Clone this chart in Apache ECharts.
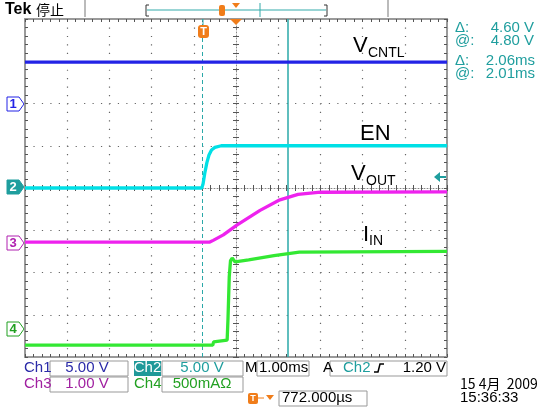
<!DOCTYPE html>
<html><head><meta charset="utf-8">
<script src="https://cdn.jsdelivr.net/npm/echarts@6/dist/echarts.min.js"></script>
<style>html,body{margin:0;padding:0;background:#fff}#c{width:547px;height:408px}</style>
</head><body><div id="c"></div>
<script>
// time in ms (1.00 ms/div, 10 div), vertical in divisions (8 div)
const ch1 = [[0,6.98],[10,6.98]];
const ch2 = [[0,4.0],[4.19,4.0],[4.22,4.1],[4.26,4.35],[4.31,4.6],[4.36,4.78],[4.42,4.9],[4.5,4.96],[4.65,5.0],[10,5.0]];
const ch3 = [[0,2.72],[4.38,2.72],[4.46,2.76],[4.7,2.89],[5.02,3.12],[5.57,3.47],[6.04,3.72],[6.47,3.85],[7.0,3.9],[10,3.91]];
const ch4 = [[0,0.28],[4.45,0.28],[4.47,0.36],[4.79,0.4],[4.81,0.9],[4.84,1.9],[4.87,2.28],[4.91,2.34],[4.98,2.25],[5.3,2.3],[5.9,2.4],[6.5,2.48],[10,2.5]];
const cursorTimes = [4.19, 6.23];
const cursorText = [["Δ:", "4.60 V"], ["@:", "4.80 V"], ["Δ:", "2.06ms"], ["@:", "2.01ms"]];
const scaleText = ["5.00 V", "5.00 V", "1.00 V", "500mAΩ"];
const timebase = "1.00ms", trigLevel = "1.20 V", trigPos = "772.000µs";
const dateText = ["15 4月  2009", "15:36:33"];

const C1='#2323e6', C2='#00e0e6', C3='#ee22ee', C4='#33e833', TEAL='#1f9e9e', OR='#f07d1a';
const F='"Liberation Sans", Arial, sans-serif';
const chart = echarts.init(document.getElementById('c'));
const G={left:25, top:19, width:422, height:338};
const grayLine={color:'#9a9a9a', width:2};
function xa(pos, extra){return Object.assign({type:'value',min:0,max:10,interval:1,position:pos,
  axisLine:{show:true,lineStyle:grayLine,onZero:false},axisTick:{show:true,inside:true,length:3,lineStyle:{color:'#555'}},
  minorTick:{show:true,splitNumber:5,length:3,lineStyle:{color:'#555'}},axisLabel:{show:false},splitLine:{show:false}},extra||{});}
function ya(pos, extra){return Object.assign({type:'value',min:0,max:8,interval:1,position:pos,
  axisLine:{show:true,lineStyle:grayLine,onZero:false},axisTick:{show:true,inside:true,length:3,lineStyle:{color:'#555'}},
  minorTick:{show:true,splitNumber:5,length:3,lineStyle:{color:'#555'}},axisLabel:{show:false},splitLine:{show:false}},extra||{});}
const dotted={show:true,lineStyle:{color:'#666',width:1.2,type:[1.2,7.24]}};
const centerLine={show:true,lineStyle:{color:'#888',width:1,type:[1,2]}};
const mk=(d,c)=>({type:'line',data:d,showSymbol:false,symbol:'none',lineStyle:{color:c,width:3.3},xAxisIndex:0,yAxisIndex:0,z:5});

function text(x,y,t,o){return {type:'text',x:x,y:y,style:Object.assign({text:t,fill:'#000',font:'14px '+F,textVerticalAlign:'middle'},o||{}),z:100};}
function box(x,y,w,h){return {type:'rect',shape:{x:x,y:y,width:w,height:h},style:{fill:'none',stroke:'#999',lineWidth:1},z:90};}
function marker(y,label,col,filled){
  return {type:'group',z:100,children:[
    {type:'polygon',shape:{points:[[7,y-7],[19,y-7],[24,y],[19,y+7],[7,y+7]]},style:{fill:filled?col:'#fff',stroke:col,lineWidth:1}},
    {type:'text',x:13,y:y,style:{text:label,fill:filled?'#fff':col,font:'bold 13px '+F,textAlign:'center',textVerticalAlign:'middle'}}]};
}
const RF='15px '+F;
const graphic=[
  text(5,10,'Tek',{font:'bold 16px '+F}),
  text(36,10,'停止',{font:'14px "Noto Sans CJK SC"'}),
  {type:'line',shape:{x1:85,y1:0,x2:85,y2:17},style:{stroke:'#bbb',lineWidth:2}},
  {type:'line',shape:{x1:388,y1:0,x2:388,y2:17},style:{stroke:'#bbb',lineWidth:2}},
  {type:'line',shape:{x1:147,y1:10,x2:326,y2:10},style:{stroke:'#33aaaa',lineWidth:1}},
  {type:'polyline',shape:{points:[[149,5],[146,5],[146,16],[149,16]]},style:{stroke:'#333',fill:'none',lineWidth:1}},
  {type:'polyline',shape:{points:[[324,5],[327,5],[327,16],[324,16]]},style:{stroke:'#333',fill:'none',lineWidth:1}},
  {type:'line',shape:{x1:260,y1:3,x2:260,y2:17},style:{stroke:'#33aaaa',lineWidth:1}},
  {type:'rect',shape:{x:219,y:5,width:6,height:11,r:2},style:{fill:OR}},
  {type:'polygon',shape:{points:[[232,3],[240,3],[236,8]]},style:{fill:OR}},
  {type:'polygon',shape:{points:[[230,19],[242,19],[236,25]]},style:{fill:OR},z:100},
  {type:'line',shape:{x1:203,y1:19,x2:203,y2:26},style:{stroke:'#33aaaa',lineWidth:1},z:100},
  {type:'rect',shape:{x:198,y:25,width:11,height:13,r:3},style:{fill:OR},z:100},
  text(203.5,31.5,'T',{fill:'#fff',font:'bold 11px '+F,textAlign:'center'}),
  marker(104,'1',C1,false), marker(187,'2',TEAL,true), marker(243,'3','#b020b0',false), marker(329,'4','#20a020',false),
  {type:'polygon',shape:{points:[[434,177],[440,172],[440,182]]},style:{fill:TEAL},z:100},
  {type:'line',shape:{x1:439,y1:177,x2:446,y2:177},style:{stroke:TEAL,lineWidth:2},z:100},
  text(353,46,'V',{font:'22px '+F}), text(368,53,'CNTL',{font:'14px '+F}),
  text(360,134,'EN',{font:'22px '+F}),
  text(351,174,'V',{font:'22px '+F}), text(366,181,'OUT',{font:'14px '+F}),
  text(363,235,'I',{font:'22px '+F}), text(369,241,'IN',{font:'14px '+F}),
  text(455,28,cursorText[0][0],{fill:TEAL,font:RF}), text(534,28,cursorText[0][1],{fill:TEAL,font:RF,textAlign:'right'}),
  text(455,41,cursorText[1][0],{fill:TEAL,font:RF}), text(534,41,cursorText[1][1],{fill:TEAL,font:RF,textAlign:'right'}),
  text(455,61,cursorText[2][0],{fill:TEAL,font:RF}), text(535,61,cursorText[2][1],{fill:TEAL,font:RF,textAlign:'right'}),
  text(455,74,cursorText[3][0],{fill:TEAL,font:RF}), text(535,74,cursorText[3][1],{fill:TEAL,font:RF,textAlign:'right'}),
  text(24,368,'Ch1',{fill:'#2a2aa8',font:RF}), box(50,361,78,15), text(87,368,scaleText[0],{fill:'#2a2aa8',font:RF,textAlign:'center'}),
  {type:'rect',shape:{x:134,y:361,width:27,height:15},style:{fill:'#1f9999'},z:90},
  text(147.5,368,'Ch2',{fill:'#fff',font:RF,textAlign:'center'}), box(162,361,81,15), text(202,368,scaleText[1],{fill:TEAL,font:RF,textAlign:'center'}),
  text(245,368,'M',{font:RF}), box(257,361,52,15), text(259,368,timebase,{font:RF}),
  text(323,368,'A',{font:RF}), box(330,361,117,15), text(343,368,'Ch2',{fill:TEAL,font:RF}),
  {type:'polyline',shape:{points:[[374,372],[378,372],[380,364],[384,364]]},style:{stroke:'#000',fill:'none',lineWidth:1.5},z:100},
  text(446,368,trigLevel,{font:RF,textAlign:'right'}),
  text(24,384,'Ch3',{fill:'#a020a0',font:RF}), box(50,377,78,15), text(87,384,scaleText[2],{fill:'#a020a0',font:RF,textAlign:'center'}),
  text(134,384,'Ch4',{fill:'#22a022',font:RF}), box(162,377,81,15), text(202,384,scaleText[3],{fill:'#22a022',font:RF,textAlign:'center'}),
  {type:'rect',shape:{x:248,y:393,width:10,height:11,r:2},style:{fill:OR},z:90},
  text(253,398.5,'T',{fill:'#fff',font:'bold 9px '+F,textAlign:'center'}),
  {type:'line',shape:{x1:258,y1:398,x2:264,y2:398},style:{stroke:OR,lineWidth:1},z:90},
  {type:'polygon',shape:{points:[[266,395],[274,395],[270,400]]},style:{fill:OR},z:90},
  box(279,391,88,15), text(282,398,trigPos,{font:RF}),
  text(460,384,dateText[0],{font:'14px "Noto Sans CJK SC", '+F}),
  text(460,398,dateText[1],{font:RF})
];
chart.setOption({
  animation:false, backgroundColor:'#fff',
  grid:Object.assign({show:false},G),
  xAxis:[xa('bottom',{splitLine:dotted}), xa('top'),
    xa('bottom',{offset:-169,axisLine:centerLine,axisTick:{show:true,inside:true,length:3,lineStyle:{color:'#555'}}}),
    xa('bottom',{offset:-169,axisLine:{show:false},axisTick:{show:true,inside:false,length:3,lineStyle:{color:'#555'}}})],
  yAxis:[ya('left',{splitLine:dotted}), ya('right'),
    ya('left',{offset:-211,axisLine:centerLine,axisTick:{show:true,inside:true,length:3,lineStyle:{color:'#555'}}}),
    ya('left',{offset:-211,axisLine:{show:false},axisTick:{show:true,inside:false,length:3,lineStyle:{color:'#555'}}})],
  series:[
    {type:'line',data:[],xAxisIndex:0,yAxisIndex:0,markLine:{silent:true,symbol:'none',label:{show:false},
      data:[{xAxis:cursorTimes[0],lineStyle:{color:'#2aa8a8',width:1,type:[4,3]}},{xAxis:cursorTimes[1],lineStyle:{color:'#2aa8a8',width:1.5,type:'solid'}}]},z:3},
    mk(ch1,C1), mk(ch2,C2), mk(ch3,C3), mk(ch4,C4)
  ],
  graphic:graphic
});
</script></body></html>
